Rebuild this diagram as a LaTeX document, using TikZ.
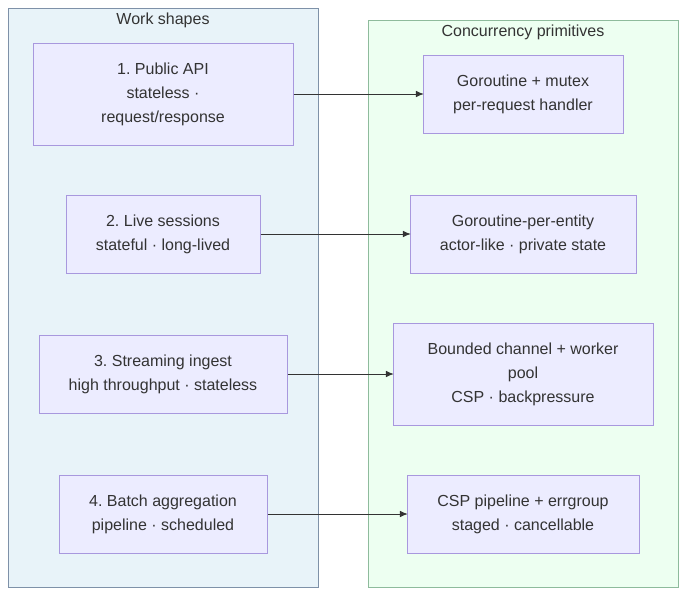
\documentclass[tikz,border=0pt]{standalone}
\usepackage{fontspec}
\setmainfont{Liberation Sans}
\usetikzlibrary{arrows.meta, positioning}
\definecolor{inktext}{HTML}{333333}
\definecolor{workfill}{HTML}{E8F3F9}
\definecolor{workline}{HTML}{7E91A8}
\definecolor{primfill}{HTML}{EDFFF1}
\definecolor{primline}{HTML}{8EBB9C}
\definecolor{boxfill}{HTML}{ECECFF}
\definecolor{boxline}{HTML}{A898DE}
\frenchspacing

\begin{document}
\begin{tikzpicture}[
  x=0.75pt, y=-0.75pt,
  every node/.style={font=\fontsize{12}{18}\selectfont, text=inktext},
  shapebox/.style={draw=boxline, fill=boxfill, line width=0.75pt, align=center,
    inner sep=0pt, minimum height=58.5pt},
  maparrow/.style={-{Latex[length=6pt, width=5pt]}, line width=0.75pt, inktext},
  grouptitle/.style={anchor=center}
]
\useasboundingbox (0,0) rectangle (686,596);

% the two groups
\draw[workline, fill=workfill, line width=0.75pt] (8,8) rectangle (318,587);
\draw[primline, fill=primfill, line width=0.75pt] (368,20) rectangle (678,587);
\node[grouptitle] (worktitle) at (163,20) {Work shapes};
\node[grouptitle] (primtitle) at (523,32) {Concurrency primitives};

% work shapes
\node[shapebox, minimum width=195pt, minimum height=76.5pt] (api) at (163,94)
  {1. Public API\\stateless ·\\request/response};
\node[shapebox, minimum width=145.5pt] (sessions) at (163,234)
  {2. Live sessions\\stateful · long-lived};
\node[shapebox, minimum width=186pt] (ingest) at (163,374)
  {3. Streaming ingest\\high throughput · stateless};
\node[shapebox, minimum width=156pt] (batch) at (163,514)
  {4. Batch aggregation\\pipeline · scheduled};

% concurrency primitives
\node[shapebox, minimum width=150pt] (mutex) at (523,94)
  {Goroutine + mutex\\per-request handler};
\node[shapebox, minimum width=169.5pt] (actor) at (523,234)
  {Goroutine-per-entity\\actor-like · private state};
\node[shapebox, minimum width=195pt, minimum height=76.5pt] (workers) at (523,374)
  {Bounded channel + worker\\pool\\CSP · backpressure};
\node[shapebox, minimum width=174pt] (errgroup) at (523,514)
  {CSP pipeline + errgroup\\staged · cancellable};

\draw[maparrow, shorten >=-1pt] (api) -- (mutex);
\draw[maparrow, shorten >=-1pt] (sessions) -- (actor);
\draw[maparrow, shorten >=-1pt] (ingest) -- (workers);
\draw[maparrow, shorten >=-1pt] (batch) -- (errgroup);
\end{tikzpicture}
\end{document}
